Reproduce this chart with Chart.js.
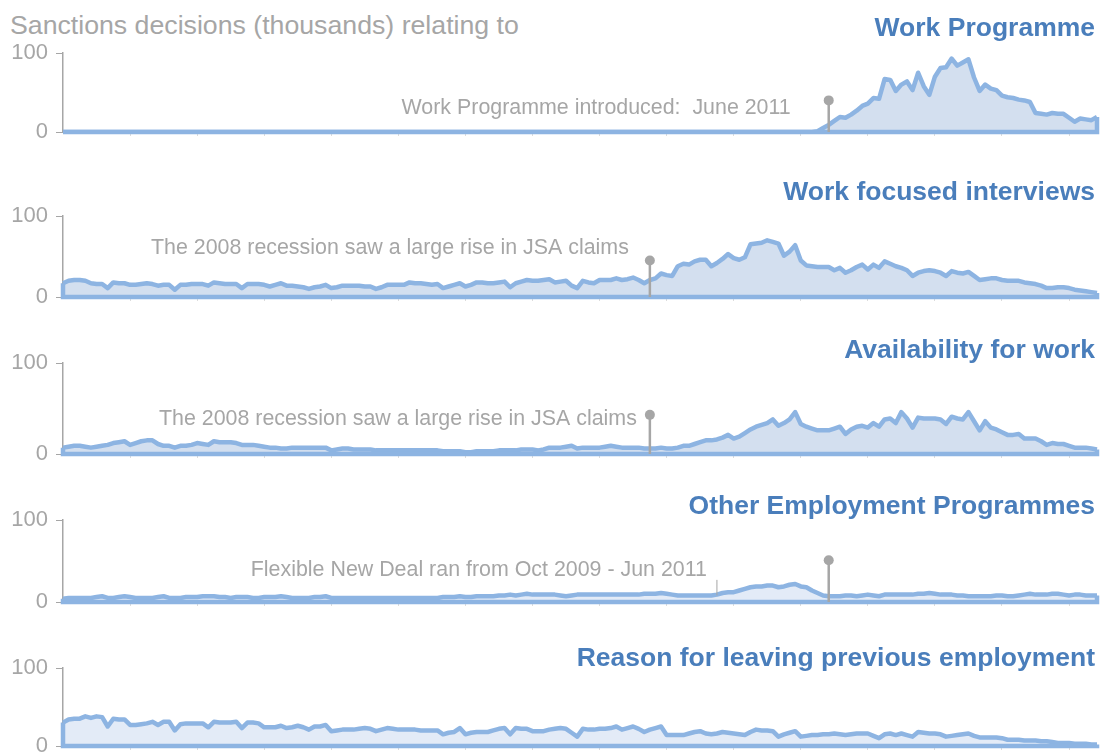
<!DOCTYPE html>
<html>
<head>
<meta charset="utf-8">
<title>Sanctions decisions</title>
<script src="https://cdn.jsdelivr.net/npm/chart.js@4"></script>
<style>
    body { margin: 0; background: #fff; width: 1101px; height: 752px; overflow: hidden; position: relative; font-family: "Liberation Sans", Arial, sans-serif; }
    #titre { position: absolute; left: 10px; top: 9px; font-size: 26.7px; line-height: 32px; color: #a6a6a6; white-space: nowrap; }
    canvas { position: absolute; left: 0; }
</style>
</head>
<body>
<div id="titre">Sanctions decisions (thousands) relating to</div>
<canvas id="c0" width="1101"></canvas>
<canvas id="c1" width="1101"></canvas>
<canvas id="c2" width="1101"></canvas>
<canvas id="c3" width="1101"></canvas>
<canvas id="c4" width="1101"></canvas>
<script>
'use strict';
//années et mois pour les catégories (une valeur par mois, jan 2000 - juin 2015)
const annees = ['2000','2001','2002','2003','2004','2005','2006','2007','2008','2009','2010','2011','2012','2013','2014','2015'];
const moisNoms = ['Jan','Feb','Mar','Apr','May','Jun','Jul','Aug','Sep','Oct','Nov','Dec'];

//valeurs (milliers), une ligne par année
const workProgramme = [
    0,0,0,0,0,0,0,0,0,0,0,0,
    0,0,0,0,0,0,0,0,0,0,0,0,
    0,0,0,0,0,0,0,0,0,0,0,0,
    0,0,0,0,0,0,0,0,0,0,0,0,
    0,0,0,0,0,0,0,0,0,0,0,0,
    0,0,0,0,0,0,0,0,0,0,0,0,
    0,0,0,0,0,0,0,0,0,0,0,0,
    0,0,0,0,0,0,0,0,0,0,0,0,
    0,0,0,0,0,0,0,0,0,0,0,0,
    0,0,0,0,0,0,0,0,0,0,0,0,
    0,0,0,0,0,0,0,0,0,0,0,0,
    0,0,0,1,5,9,14,19,18,22,27,33,
    36,43,42,67,66,52,60,64,53,75,58,47,
    70,81,82,93,84,88,92,69,52,60,55,53,
    46,44,43,41,40,38,24,23,22,24,23,23,
    18,13,17,16,15,19
];
const workFocusedInterviews = [
    17,20,21,21,20,17,16,16,11,18,17,17,
    15,15,16,17,16,14,15,15,9,15,15,16,
    16,16,14,18,17,16,16,16,11,16,16,16,
    15,13,15,17,14,14,13,12,10,12,13,15,
    11,12,14,14,14,14,13,13,10,12,15,15,
    15,15,18,17,17,16,15,16,11,13,15,17,
    13,15,18,18,17,17,18,19,12,17,19,21,
    20,20,21,22,18,19,20,14,11,20,18,17,
    21,21,21,23,21,22,24,21,17,21,23,29,
    27,26,38,41,40,44,46,46,38,42,47,53,
    48,46,49,65,66,67,70,68,66,51,56,64,
    45,39,38,37,37,37,33,36,30,33,37,40,
    34,40,36,44,41,38,36,33,26,30,32,33,
    32,30,26,32,30,29,31,26,21,22,23,23,
    21,20,20,20,18,17,16,14,11,11,12,12,
    11,9,8,7,6,5
];
const availabilityForWork = [
    7,8,9,9,8,7,8,9,10,12,13,14,
    10,12,14,15,15,11,9,9,7,9,9,10,
    12,11,10,14,13,13,13,12,10,10,10,9,
    8,7,7,6,6,7,7,7,7,7,7,7,
    4,5,6,6,5,5,5,5,4,4,4,4,
    4,4,4,4,4,4,4,4,3,3,3,3,
    2,2,3,3,3,3,4,4,4,4,5,5,
    5,4,5,7,7,7,8,9,6,7,7,7,
    7,8,9,8,7,7,7,7,6,6,6,7,
    6,6,7,9,9,11,13,15,15,16,18,21,
    17,19,23,27,30,32,34,38,31,34,38,46,
    33,30,28,26,26,26,28,30,22,27,30,31,
    29,34,30,38,39,34,46,39,29,40,39,39,
    39,38,33,41,39,38,46,36,26,36,29,27,
    24,21,21,22,17,17,17,14,10,12,11,11,
    9,7,7,7,6,5
];
const otherEmploymentProgrammes = [
    4,5,5,5,5,5,6,7,5,5,6,7,
    6,5,5,5,5,6,7,5,5,5,6,6,
    6,7,7,7,6,6,5,6,6,6,5,5,
    6,6,6,7,6,5,5,5,5,6,6,7,
    5,5,5,5,5,5,5,5,5,5,5,5,
    5,5,5,5,5,5,5,5,6,6,6,7,
    6,6,7,7,7,7,8,8,9,8,9,10,
    9,9,9,9,9,8,7,8,9,9,9,9,
    9,9,9,9,9,9,9,9,10,10,10,11,
    10,9,8,8,8,8,8,8,8,9,11,12,
    12,14,16,18,19,19,20,20,18,19,21,22,
    19,18,14,11,8,7,7,7,8,8,7,8,
    9,8,7,9,9,9,9,9,9,10,10,11,
    10,9,9,9,8,8,7,7,7,7,7,8,
    8,7,7,8,9,10,9,9,9,10,10,9,
    8,9,9,8,8,8
];
const reasonForLeaving = [
    30,34,35,35,38,36,38,37,25,35,34,34,
    27,27,28,29,31,27,31,31,20,28,29,29,
    29,29,24,31,30,30,30,31,23,30,30,29,
    24,24,24,26,23,24,26,24,21,25,25,27,
    19,20,21,21,21,22,23,22,19,21,23,22,
    21,21,21,21,20,20,20,20,15,17,18,23,
    15,17,18,18,18,20,22,23,15,23,22,22,
    19,19,19,21,22,23,22,17,12,22,21,21,
    22,22,23,25,21,23,25,22,18,21,23,25,
    14,14,14,14,16,18,19,16,15,16,18,17,
    16,15,14,18,21,20,20,19,12,15,17,19,
    12,13,14,14,15,15,16,15,14,15,16,16,
    16,13,10,15,16,14,16,14,12,18,17,16,
    16,15,12,13,14,15,16,13,11,11,11,11,
    10,8,8,8,7,7,7,6,6,5,4,4,
    4,3,3,3,2,2
];

//labels des mois
const labels = [];
annees.forEach(a => moisNoms.forEach(m => labels.push(m + ' ' + a)));
labels.length = workProgramme.length;

//couleurs et police
const POLICE = '"Liberation Sans", Arial, sans-serif';
const GRIS = '#a6a6a6';
const BLEU_TITRE = '#4a7ebb';
const BLEU_LIGNE = '#8db4e2';

//mise en page des panneaux (y du trait 100 et du trait 0 en pixels)
const panneaux = [
    { titre: 'Work Programme', data: workProgramme, fond: '#d3dfef', y100: 53, y0: 132, titreDy: -24,
      epingles: [{ idx: 137, haut: 40 }],
      textes: [{ txt: 'Work Programme introduced:  June 2011', idx: 137, ecart: 38, val: 30 }] },
    { titre: 'Work focused interviews', data: workFocusedInterviews, fond: '#d3dfef', y100: 216, y0: 297, titreDy: -23,
      epingles: [{ idx: 105, haut: 45 }],
      textes: [{ txt: 'The 2008 recession saw a large rise in JSA claims', idx: 105, ecart: 21, val: 60 }] },
    { titre: 'Availability for work', data: availabilityForWork, fond: '#d3dfef', y100: 363, y0: 454, titreDy: -12,
      epingles: [{ idx: 105, haut: 43 }],
      textes: [{ txt: 'The 2008 recession saw a large rise in JSA claims', idx: 105, ecart: 13, val: 38 }] },
    { titre: 'Other Employment Programmes', data: otherEmploymentProgrammes, fond: '#e3ebf7', y100: 520, y0: 602, titreDy: -13,
      epingles: [{ idx: 137, haut: 51 }],
      traits: [{ idx: 117, de: 8, a: 27 }],
      textes: [{ txt: 'Flexible New Deal ran from Oct 2009 - Jun 2011', idx: 117, ecart: 10, val: 39 }] },
    { titre: 'Reason for leaving previous employment', data: reasonForLeaving, fond: '#e3ebf7', y100: 668, y0: 746, titreDy: -9,
      epingles: [], textes: [] }
];

const HAUT = 45;
const BAS = 24;

//plugin pour les titres, les bords de l'aire, les épingles et les textes
function pluginPanneau(p) {
    return {
        id: 'panneau',
        afterDatasetsDraw(chart) {
            const { ctx, chartArea, scales: { x, y } } = chart;
            const d = p.data;
            const yZero = y.getPixelForValue(0);
            ctx.save();
            //bord bas et bords verticaux de l'aire
            ctx.strokeStyle = BLEU_LIGNE;
            ctx.lineWidth = 4.5;
            ctx.lineCap = 'butt';
            ctx.beginPath();
            ctx.moveTo(x.getPixelForValue(0), y.getPixelForValue(d[0]));
            ctx.lineTo(x.getPixelForValue(0), yZero);
            ctx.lineTo(x.getPixelForValue(d.length - 1), yZero);
            ctx.lineTo(x.getPixelForValue(d.length - 1), y.getPixelForValue(d[d.length - 1]));
            ctx.stroke();
            //titre du panneau
            ctx.font = 'bold 26.5px ' + POLICE;
            ctx.fillStyle = BLEU_TITRE;
            ctx.textAlign = 'right';
            ctx.textBaseline = 'middle';
            ctx.fillText(p.titre, chartArea.right - 2, chartArea.top + p.titreDy);
            //traits fins
            ctx.strokeStyle = GRIS;
            (p.traits || []).forEach(t => {
                ctx.lineWidth = 1;
                ctx.beginPath();
                ctx.moveTo(x.getPixelForValue(t.idx), y.getPixelForValue(t.de));
                ctx.lineTo(x.getPixelForValue(t.idx), y.getPixelForValue(t.a));
                ctx.stroke();
            });
            //épingles
            p.epingles.forEach(e => {
                const px = x.getPixelForValue(e.idx);
                const py = y.getPixelForValue(e.haut);
                ctx.lineWidth = 2.5;
                ctx.beginPath();
                ctx.moveTo(px, yZero);
                ctx.lineTo(px, py);
                ctx.stroke();
                ctx.fillStyle = GRIS;
                ctx.beginPath();
                ctx.arc(px, py, 5, 0, Math.PI * 2);
                ctx.fill();
            });
            //textes
            ctx.font = '21.4px ' + POLICE;
            ctx.fillStyle = GRIS;
            p.textes.forEach(t => {
                ctx.fillText(t.txt, x.getPixelForValue(t.idx) - t.ecart, y.getPixelForValue(t.val));
            });
            ctx.restore();
        }
    };
}

//créer un graphique par panneau
panneaux.forEach((p, i) => {
    const canvas = document.getElementById('c' + i);
    const hauteur = p.y0 - p.y100;
    canvas.height = HAUT + hauteur + BAS;
    canvas.style.top = (p.y100 - HAUT) + 'px';
    new Chart(canvas.getContext('2d'), {
        type: 'line',
        data: {
            labels: labels,
            datasets: [{
                data: p.data,
                borderColor: BLEU_LIGNE,
                borderWidth: 4.5,
                borderJoinStyle: 'round',
                backgroundColor: p.fond,
                fill: 'origin',
                pointRadius: 0,
                tension: 0
            }]
        },
        options: {
            responsive: false,
            animation: false,
            events: [],
            layout: { padding: { top: HAUT, right: 4, bottom: 0, left: 0 } },
            plugins: { legend: { display: false }, tooltip: { enabled: false }, title: { display: false } },
            scales: {
                x: {
                    type: 'category',
                    offset: false,
                    ticks: { display: false },
                    grid: {
                        drawOnChartArea: false,
                        tickLength: 4,
                        color: c => (c.index > 0 && c.index % 12 === 0) ? '#dcdcdc' : 'rgba(0,0,0,0)'
                    },
                    border: { color: GRIS, width: 1.5 },
                    afterFit: s => { s.height = BAS; }
                },
                y: {
                    min: 0,
                    max: 100,
                    ticks: { stepSize: 100, color: GRIS, padding: 8, font: { size: 22, family: POLICE } },
                    grid: { drawOnChartArea: false, tickLength: 7, color: GRIS },
                    border: { color: GRIS, width: 1.5 },
                    afterFit: s => { s.width = 63; }
                }
            }
        },
        plugins: [pluginPanneau(p)]
    });
});
</script>
</body>
</html>
